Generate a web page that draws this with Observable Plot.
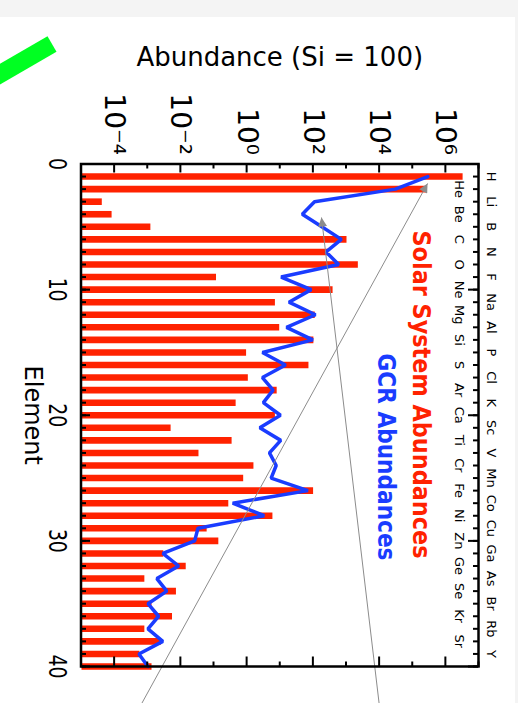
<!DOCTYPE html>
<html><head><meta charset="utf-8">
<script src="https://cdn.jsdelivr.net/npm/d3@7"></script>
<script src="https://cdn.jsdelivr.net/npm/@observablehq/plot@0.6"></script>
<style>
html,body{margin:0;padding:0;width:518px;height:703px;overflow:hidden;background:#f4f4f4;}
#paper{position:absolute;left:0;top:17px;width:515px;height:686px;background:#fff;}
#chart{position:absolute;left:0;top:0;width:703px;height:518px;transform-origin:0 0;transform:translate(518px,0) rotate(90deg);}
#chart svg{max-width:none;}
#marker{position:absolute;left:-68px;top:34.5px;width:120px;height:18px;background:#00ff22;transform-origin:100% 50%;transform:rotate(-30deg);}
</style></head><body>
<div id="paper"></div>
<div id="chart"></div>
<div id="marker"></div>
<script>
// Atomic number (Z) of each bar / line point
const elementZ = [1,2,3,4,5,6,7,8,9,10,11,12,13,14,15,16,17,18,19,20,21,22,23,24,25,26,27,28,29,30,31,32,33,34,35,36,37,38,39,40];
// Solar System abundances (Si = 100)
const solarAbundance = [3.2e6,2.6e5,4.1e-5,8.1e-5,1.2e-3,1.0e3,2.8e2,2.2e3,0.115,3.8e2,6.9,110,9.3,100,0.93,71,1.05,7.8,0.45,6.9,4.9e-3,0.34,0.034,1.55,0.76,98,0.27,5.8,0.060,0.135,2.95e-3,0.014,7.9e-4,7.1e-3,1.3e-3,5.4e-3,7.9e-4,2.5e-3,5.6e-4,1.3e-3];
// Galactic cosmic ray abundances (Si = 100)
const gcrAbundance = [2.95e5,3.1e4,112,48,186,724,250,600,11,89,19,120,16,100,3.0,15,3.0,6.3,3.2,10.5,2.5,10.7,4.9,7.8,5.5,71,0.38,3.4,0.034,0.027,2.95e-3,8.9e-3,1.95e-3,3.9e-3,1.05e-3,2.2e-3,1.05e-3,2.95e-3,5.6e-4,1.05e-3];
// Element symbols for Z = 1..39 (top axis labels)
const symbols = ["H","He","Li","Be","B","C","N","O","F","Ne","Na","Mg","Al","Si","P","S","Cl","Ar","K","Ca","Sc","Ti","V","Cr","Mn","Fe","Co","Ni","Cu","Zn","Ga","Ge","As","Se","Br","Kr","Rb","Sr","Y"];
// Axis ticks
const elementMinorTicks = [0,1,2,3,4,5,6,7,8,9,10,11,12,13,14,15,16,17,18,19,20,21,22,23,24,25,26,27,28,29,30,31,32,33,34,35,36,37,38,39,40];
const elementMajorTicks = [0,10,20,30,40];
const abundanceMajorTicks = [1e-4,1e-2,1e0,1e2,1e4,1e6];
const abundanceMinorTicks = [1e-5,1e-3,1e-1,1e1,1e3,1e5,1e7];
const abundanceDomain = [1e-5, 1e7];
// Grey annotation arrows (from outside the frame to the points)
const arrowStarts = [[42.95, 6.8e-4],[42.95, 1.0e4]];
const arrowEnds = [[1.55, 2.9e5],[4.26, 182]];
const legendLabels = ["Solar System Abundances","GCR Abundances"];

const RED = "#ff2200", BLUE = "#1a3cff", GREY = "#8c8c8c";

const rows = elementZ.map((z,i) => ({z, solar: solarAbundance[i], gcr: gcrAbundance[i]}));
const symRows = symbols.map((s,i) => ({z: i+1, sym: s}));
const arrows = arrowStarts.map((s,i) => ({x1: s[0], y1: s[1], x2: arrowEnds[i][0], y2: arrowEnds[i][1]}));
const supMap = {"-":"\u207B","0":"\u2070","1":"\u00B9","2":"\u00B2","3":"\u00B3","4":"\u2074","5":"\u2075","6":"\u2076","7":"\u2077","8":"\u2078","9":"\u2079"};
const pow10 = d => "10" + String(Math.round(Math.log10(d))).split("").map(c => supMap[c]).join("");
const blank = () => "";

const plot = Plot.plot({
  width: 703, height: 518,
  marginLeft: 163.5, marginRight: 37, marginTop: 39, marginBottom: 81.5,
  style: {fontFamily: "DejaVu Sans", background: "transparent", maxWidth: "none", overflow: "visible", color: "black"},
  x: {domain: [0, 40]},
  y: {type: "log", domain: abundanceDomain},
  marks: [
    Plot.ruleX(rows, {x: "z", y1: () => abundanceDomain[0], y2: "solar", stroke: RED, strokeWidth: 6.6}),
    Plot.line(rows, {x: "z", y: "gcr", stroke: BLUE, strokeWidth: 3.5, strokeLinejoin: "miter"}),
    Plot.link(arrows, {x1: "x1", y1: "y1", x2: "x2", y2: "y2", stroke: GREY, strokeWidth: 1}),
    Plot.frame({stroke: "black", strokeWidth: 2.5}),
    Plot.axisX({anchor: "bottom", ticks: elementMinorTicks, tickSize: -4.5, tickFormat: blank, strokeWidth: 2, label: null}),
    Plot.axisX({anchor: "bottom", ticks: elementMajorTicks, tickSize: -8.5, tickFormat: blank, strokeWidth: 2, label: null}),
    Plot.axisX({anchor: "bottom", ticks: elementMajorTicks, tickSize: 0, tickPadding: 14, fontSize: 25, label: null}),
    Plot.axisX({anchor: "top", ticks: elementMinorTicks, tickSize: -5, tickFormat: blank, strokeWidth: 2, label: null}),
    Plot.axisX({anchor: "top", ticks: elementMajorTicks, tickSize: -10, tickFormat: blank, strokeWidth: 2, label: null}),
    Plot.axisY({anchor: "left", ticks: abundanceMinorTicks, tickSize: -5, tickFormat: blank, strokeWidth: 2, label: null}),
    Plot.axisY({anchor: "left", ticks: abundanceMajorTicks, tickSize: -9, tickFormat: blank, strokeWidth: 2, label: null}),
    Plot.axisY({anchor: "left", ticks: abundanceMajorTicks, tickSize: 0, tickPadding: 9, fontSize: 28, tickFormat: pow10, label: null}),
    Plot.axisY({anchor: "right", ticks: abundanceMinorTicks, tickSize: -5.5, tickFormat: blank, strokeWidth: 2, label: null}),
    Plot.axisY({anchor: "right", ticks: abundanceMajorTicks, tickSize: -10.5, tickFormat: blank, strokeWidth: 2, label: null}),
    Plot.text(symRows.filter(d => d.z % 2 === 1), {x: "z", text: "sym", frameAnchor: "top", dy: -18, fontSize: 13}),
    Plot.text(symRows.filter(d => d.z % 2 === 0), {x: "z", text: "sym", frameAnchor: "top", dy: 14, fontSize: 13}),
    Plot.text(["Abundance (Si = 100)"], {text: d => d, frameAnchor: "left", textAnchor: "middle", dx: -106.5, rotate: -90, fontSize: 26}),
    Plot.text(["Element"], {text: d => d, frameAnchor: "bottom", textAnchor: "middle", dy: 56, fontSize: 24}),
    Plot.text([legendLabels[0]], {text: d => d, frameAnchor: "top-right", dx: -108, dy: 48, textAnchor: "end", fill: RED, fontSize: 24, fontWeight: "bold"}),
    Plot.text([legendLabels[1]], {text: d => d, frameAnchor: "top-right", dx: -106, dy: 83, textAnchor: "end", fill: BLUE, fontSize: 24, fontWeight: "bold"})
  ]
});
document.getElementById("chart").appendChild(plot);

// filled arrowheads for the grey annotation links
const svg = d3.select(plot);
const defs = svg.insert("defs", ":first-child");
defs.append("marker").attr("id", "ahead").attr("viewBox", "0 0 10 10").attr("refX", 10).attr("refY", 5)
  .attr("markerWidth", 13).attr("markerHeight", 9).attr("markerUnits", "userSpaceOnUse").attr("orient", "auto")
  .append("path").attr("d", "M0,0L10,5L0,10Z").attr("fill", GREY);
svg.selectAll('g[aria-label="link"] path').attr("marker-end", "url(#ahead)");
// narrow element tick labels and fitted legend lengths
svg.selectAll('g[aria-label="x-axis tick label"] text').each(function() {
  const t = this.textContent;
  if (t) { this.setAttribute("textLength", 12 * t.length); this.setAttribute("lengthAdjust", "spacingAndGlyphs"); }
});
const legendLengths = {[legendLabels[0]]: 328, [legendLabels[1]]: 207};
svg.selectAll("text").each(function() {
  const L = legendLengths[this.textContent];
  if (L) { this.setAttribute("textLength", L); this.setAttribute("lengthAdjust", "spacingAndGlyphs"); }
});
</script>
</body></html>
